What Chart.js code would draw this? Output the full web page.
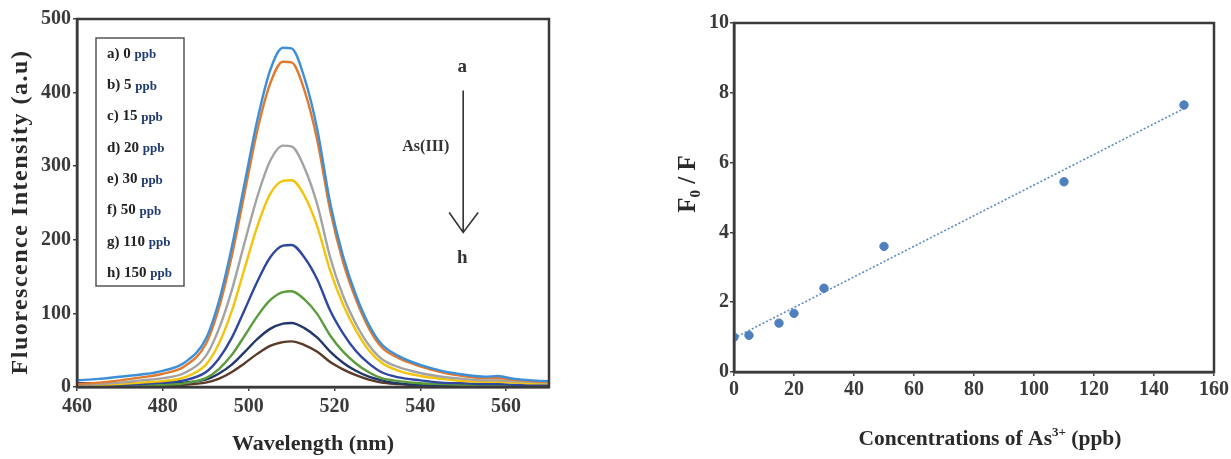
<!DOCTYPE html>
<html>
<head>
<meta charset="utf-8">
<title>Fluorescence quenching by As(III)</title>
<script src="https://cdn.jsdelivr.net/npm/chart.js@4.4.0/dist/chart.umd.min.js"></script>
<style>
  html, body { margin: 0; padding: 0; background: #fff; }
  #wrap { position: relative; width: 1231px; height: 459px; overflow: hidden; }
  #spectra { position: absolute; left: 0; top: 0; }
  #sv { position: absolute; left: 640px; top: 0; }
</style>
</head>
<body>
<div id="wrap">
  <canvas id="spectra" width="570" height="459"></canvas>
  <canvas id="sv" width="591" height="459"></canvas>
</div>
<script>
// ---- left panel: emission spectra ----
const wavelengths = [460, 465, 470, 475, 480, 485, 490, 493, 496, 499, 502, 505, 508, 510, 513, 516, 519, 522, 525, 528, 531, 535, 540, 545, 550, 555, 558, 562, 566, 570];
const ppb0   = [9, 11, 14, 17, 22, 33, 65, 115, 188, 275, 362, 430, 461, 460, 420, 350, 250, 178, 125, 85, 58, 42, 30, 22, 17, 14, 15, 11, 9, 8];
const ppb5   = [4, 6, 9, 13, 18, 28, 58, 106, 176, 262, 348, 412, 442, 441, 403, 335, 240, 170, 119, 80, 54, 39, 28, 20, 15, 12, 12, 10, 8, 7];
const ppb15  = [3, 4, 6, 9, 12, 19, 42, 78, 130, 195, 258, 307, 328, 327, 298, 248, 176, 124, 86, 57, 38, 27, 19, 14, 11, 9, 9, 8, 7, 6];
const ppb20  = [2, 3, 4, 6, 8, 13, 30, 58, 102, 160, 218, 262, 280, 281, 260, 218, 158, 112, 77, 50, 33, 22, 15, 11, 8, 7, 7, 6, 5, 5];
const ppb30  = [2, 2, 3, 4, 6, 9, 20, 38, 66, 104, 143, 176, 192, 193, 176, 146, 104, 73, 49, 32, 20, 13, 9, 6, 5, 4, 4, 3, 3, 3];
const ppb50  = [1, 1, 2, 2, 3, 5, 12, 24, 43, 69, 96, 118, 129, 130, 119, 99, 70, 48, 32, 20, 12, 8, 5, 4, 3, 3, 3, 2, 2, 2];
const ppb110 = [5, 5, 5, 5, 5, 6, 10, 18, 30, 47, 65, 79, 86, 87, 80, 67, 48, 33, 22, 14, 9, 5, 3, 2, 2, 2, 2, 2, 2, 2];
const ppb150 = [1, 1, 1, 1, 2, 3, 6, 11, 20, 32, 45, 56, 61, 62, 57, 48, 34, 24, 16, 10, 6, 4, 2, 1, 1, 1, 1, 1, 1, 1];
const legendLabels = ["a) 0", "b) 5", "c) 15", "d) 20", "e) 30", "f) 50", "g) 110", "h) 150"];
const spectraXTicks = [460, 480, 500, 520, 540, 560];
const spectraYTicks = [0, 100, 200, 300, 400, 500];

// ---- right panel: Stern-Volmer plot ----
const concentrations = [0, 5, 15, 20, 30, 50, 110, 150];
const f0OverF = [1.0, 1.05, 1.4, 1.68, 2.4, 3.6, 5.45, 7.65];
const trendX = [0, 150];
const trendY = [0.97, 7.55];
const svXTicks = [0, 20, 40, 60, 80, 100, 120, 140, 160];
const svYTicks = [0, 2, 4, 6, 8, 10];

const serif = '"Liberation Serif", "Times New Roman", serif';
const tickFont = { family: serif, size: 20, weight: 'bold' };
const lineColors = ['#3d8fd8', '#e07a2e', '#a3a3a3', '#f2c40c', '#2f47a0', '#5b9c3c', '#22376c', '#5b3b2a'];
const spectra = [ppb0, ppb5, ppb15, ppb20, ppb30, ppb50, ppb110, ppb150];

function fixTicks(list) {
  return (scale) => { scale.ticks = list.map((v) => ({ value: v })); };
}

// draw text pieces (normal / sub / sup) centred on x
function drawRich(ctx, parts, x, y) {
  let total = 0;
  parts.forEach((p) => {
    ctx.font = `bold ${p.size}px ${serif}`;
    total += ctx.measureText(p.t).width;
  });
  let cx = x - total / 2;
  parts.forEach((p) => {
    ctx.font = `bold ${p.size}px ${serif}`;
    ctx.fillText(p.t, cx, y + (p.dy || 0));
    cx += ctx.measureText(p.t).width;
  });
}

// frame around the plot area
const framePlugin = {
  id: 'frame',
  afterDatasetsDraw(chart) {
    const a = chart.chartArea;
    const ctx = chart.ctx;
    ctx.save();
    ctx.strokeStyle = '#3a3a3a';
    ctx.lineWidth = 2.5;
    ctx.strokeRect(a.left, a.top, a.right - a.left, a.bottom - a.top);
    ctx.restore();
  }
};

// legend box + arrow note + axis titles of the spectra panel
const spectraDecor = {
  id: 'spectraDecor',
  afterDraw(chart) {
    const ctx = chart.ctx;
    const a = chart.chartArea;
    const xs = chart.scales.x, ys = chart.scales.y;
    ctx.save();

    // legend
    ctx.strokeStyle = '#555';
    ctx.lineWidth = 1.5;
    ctx.strokeRect(a.left + 19, a.top + 19, 88, 248);
    ctx.textBaseline = 'middle';
    ctx.textAlign = 'left';
    legendLabels.forEach((lab, i) => {
      const y = a.top + 35 + i * 31.3;
      ctx.font = `bold 15px ${serif}`;
      ctx.fillStyle = '#222';
      ctx.fillText(lab + ' ', a.left + 30, y);
      const w = ctx.measureText(lab + ' ').width;
      ctx.font = `bold 13px ${serif}`;
      ctx.fillStyle = '#1f3a70';
      ctx.fillText('ppb', a.left + 30 + w, y + 1);
    });

    // arrow a -> h
    const ax = xs.getPixelForValue(550);
    const yTop = ys.getPixelForValue(403);
    const yTip = ys.getPixelForValue(210);
    ctx.strokeStyle = '#333';
    ctx.lineWidth = 1.6;
    ctx.beginPath();
    ctx.moveTo(ax, yTop);
    ctx.lineTo(ax, yTip);
    ctx.moveTo(ax - 14, yTip - 20);
    ctx.lineTo(ax, yTip);
    ctx.lineTo(ax + 15, yTip - 20);
    ctx.stroke();
    ctx.fillStyle = '#333';
    ctx.textAlign = 'center';
    ctx.font = `bold 19px ${serif}`;
    ctx.fillText('a', ax - 1, ys.getPixelForValue(435));
    ctx.fillText('h', ax - 1, ys.getPixelForValue(175));
    ctx.font = `bold 16px ${serif}`;
    ctx.fillText('As(III)', xs.getPixelForValue(541.3), ys.getPixelForValue(326));

    // axis titles
    ctx.fillStyle = '#2a2a2a';
    ctx.font = `bold 22px ${serif}`;
    ctx.fillText('Wavelength (nm)', (a.left + a.right) / 2, 444);
    ctx.translate(21, 212);
    ctx.rotate(-Math.PI / 2);
    ctx.letterSpacing = '1.5px';
    ctx.font = `bold 24px ${serif}`;
    ctx.fillText('Fluorescence Intensity (a.u)', 0, 0);
    ctx.restore();
  }
};

const svDecor = {
  id: 'svDecor',
  afterDraw(chart) {
    const ctx = chart.ctx;
    const a = chart.chartArea;
    ctx.save();
    ctx.fillStyle = '#2a2a2a';
    ctx.textAlign = 'left';
    ctx.textBaseline = 'alphabetic';
    drawRich(ctx, [
      { t: 'Concentrations of As', size: 21.5 },
      { t: '3+', size: 13, dy: -9 },
      { t: ' (ppb)', size: 21.5 }
    ], (a.left + a.right) / 2 + 16, 445);
    ctx.translate(55, 184);
    ctx.rotate(-Math.PI / 2);
    drawRich(ctx, [
      { t: 'F', size: 25 },
      { t: '0', size: 15, dy: 5 },
      { t: ' / F', size: 25 }
    ], 0, 0);
    ctx.restore();
  }
};

const axisGrid = { drawOnChartArea: false, drawTicks: true, tickLength: 4, tickColor: '#444', lineWidth: 1.5 };
const axisBorder = { display: true, color: '#3a3a3a', width: 2.5 };

new Chart(document.getElementById('spectra'), {
  type: 'line',
  data: {
    datasets: spectra.map((vals, i) => ({
      label: legendLabels[i] + ' ppb',
      data: wavelengths.map((w, k) => ({ x: w, y: vals[k] })),
      borderColor: lineColors[i],
      borderWidth: 2.4,
      pointRadius: 0,
      cubicInterpolationMode: 'monotone',
      fill: false
    }))
  },
  options: {
    responsive: false,
    animation: false,
    layout: { padding: { top: 19, right: 21, left: 0, bottom: 0 } },
    plugins: { legend: { display: false }, tooltip: { enabled: false } },
    scales: {
      x: {
        type: 'linear', min: 460, max: 570,
        afterBuildTicks: fixTicks(spectraXTicks),
        afterFit: (s) => { s.height = 72; },
        grid: axisGrid, border: axisBorder,
        ticks: { font: tickFont, color: '#3a3a3a', padding: 4, maxRotation: 0 }
      },
      y: {
        min: 0, max: 500,
        afterBuildTicks: fixTicks(spectraYTicks),
        afterFit: (s) => { s.width = 77; },
        grid: axisGrid, border: axisBorder,
        ticks: { font: tickFont, color: '#3a3a3a', padding: 2 }
      }
    }
  },
  plugins: [framePlugin, spectraDecor]
});

new Chart(document.getElementById('sv'), {
  type: 'scatter',
  data: {
    datasets: [
      {
        label: 'F0/F',
        data: concentrations.map((c, i) => ({ x: c, y: f0OverF[i] })),
        backgroundColor: '#4f80bd',
        borderColor: '#4f80bd',
        pointRadius: 4.2
      },
      {
        type: 'line',
        label: 'fit',
        data: trendX.map((x, i) => ({ x: x, y: trendY[i] })),
        showLine: true,
        borderColor: '#5a8cc8',
        borderWidth: 1.6,
        borderDash: [2, 2],
        pointRadius: 0,
        fill: false
      }
    ]
  },
  options: {
    responsive: false,
    animation: false,
    layout: { padding: { top: 23, right: 14, left: 0, bottom: 0 } },
    plugins: { legend: { display: false }, tooltip: { enabled: false } },
    scales: {
      x: {
        type: 'linear', min: 0, max: 160,
        afterBuildTicks: fixTicks(svXTicks),
        afterFit: (s) => { s.height = 87; },
        grid: axisGrid, border: axisBorder,
        ticks: { font: tickFont, color: '#3a3a3a', padding: 2, maxRotation: 0 }
      },
      y: {
        min: 0, max: 10,
        afterBuildTicks: fixTicks(svYTicks),
        afterFit: (s) => { s.width = 94; },
        grid: axisGrid, border: axisBorder,
        ticks: { font: tickFont, color: '#3a3a3a', padding: 1 }
      }
    }
  },
  plugins: [framePlugin, svDecor]
});
</script>
</body>
</html>
